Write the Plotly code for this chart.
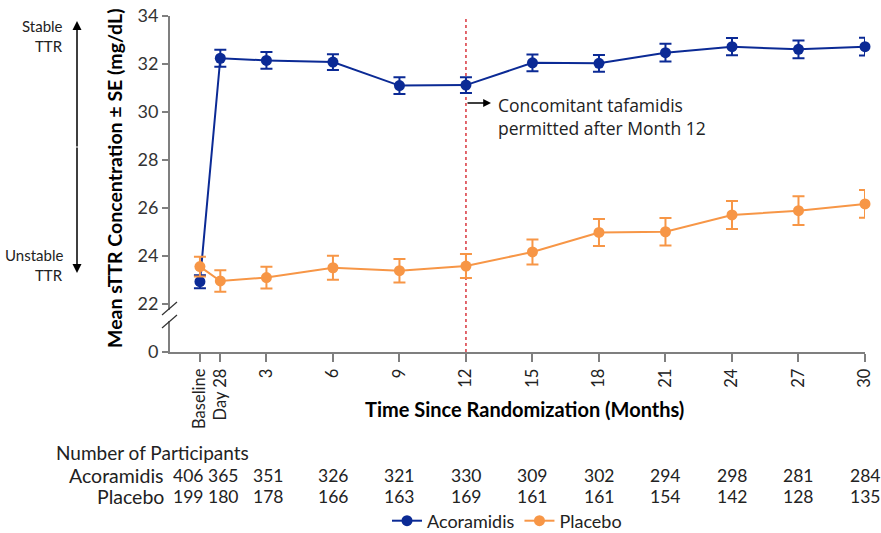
import plotly.graph_objects as go

# ---------------- data ----------------
time_points = [0, 0.92, 3, 6, 9, 12, 15, 18, 21, 24, 27, 30]
tick_labels = ["Baseline", "Day 28", "3", "6", "9", "12", "15", "18", "21", "24", "27", "30"]

acor_mean = [22.93, 32.24, 32.15, 32.08, 31.10, 31.12, 32.05, 32.03, 32.47, 32.72, 32.61, 32.72]
acor_se   = [0.27, 0.35, 0.35, 0.33, 0.35, 0.33, 0.35, 0.35, 0.37, 0.36, 0.37, 0.37]
plac_mean = [23.56, 22.96, 23.10, 23.51, 23.39, 23.58, 24.17, 24.98, 25.01, 25.71, 25.89, 26.17]
plac_se   = [0.41, 0.45, 0.45, 0.50, 0.49, 0.50, 0.52, 0.56, 0.57, 0.58, 0.60, 0.58]

n_acor = [406, 365, 351, 326, 321, 330, 309, 302, 294, 298, 281, 284]
n_plac = [199, 180, 178, 166, 163, 169, 161, 161, 154, 142, 128, 135]

y_tickvals = [20, 22, 24, 26, 28, 30, 32, 34]
y_ticktext = ["0", "22", "24", "26", "28", "30", "32", "34"]

BLUE = "#0b2a95"
ORANGE = "#f79646"
AXIS = "#7f7f7f"
TXT = "#222222"
FONT = "Lato"

# plot area geometry (pixels) for decorations
L, R, T, B = 170, 865, 16, 352
def px2x(px):
    return (px - L) / (R - L)
def py2y(py):
    return (B - py) / (B - T)

fig = go.Figure()
fig.add_trace(go.Scatter(
    x=time_points, y=acor_mean, name="Acoramidis", mode="lines+markers",
    line=dict(color=BLUE, width=2), marker=dict(color=BLUE, size=11),
    error_y=dict(type="data", array=acor_se, color=BLUE, thickness=2, width=6),
    cliponaxis=False))
fig.add_trace(go.Scatter(
    x=time_points, y=plac_mean, name="Placebo", mode="lines+markers",
    line=dict(color=ORANGE, width=2), marker=dict(color=ORANGE, size=11),
    error_y=dict(type="data", array=plac_se, color=ORANGE, thickness=2, width=6),
    cliponaxis=False))

fig.update_layout(
    width=881, height=533, autosize=False,
    margin=dict(l=L, r=881 - R, t=T, b=533 - B, autoexpand=False),
    plot_bgcolor="white", paper_bgcolor="white",
    font=dict(family=FONT, color=TXT),
    showlegend=True,
    legend=dict(orientation="h", x=px2x(507), y=py2y(521), xanchor="center", yanchor="middle",
                font=dict(family=FONT, size=18, color=TXT), itemwidth=30),
    xaxis=dict(range=[-1.35, 30], showgrid=False, zeroline=False, showline=True,
               linecolor=AXIS, linewidth=2, ticks="outside", ticklen=8, tickwidth=1.5,
               tickcolor=AXIS, tickvals=time_points, ticktext=tick_labels, tickangle=-90,
               tickfont=dict(family=FONT, size=16.5, color=TXT), automargin=False),
    yaxis=dict(range=[20, 34], showgrid=False, zeroline=False, showline=True,
               linecolor=AXIS, linewidth=2, ticks="outside", ticklen=6, tickwidth=1.5,
               tickcolor=AXIS, tickvals=y_tickvals, ticktext=y_ticktext,
               tickfont=dict(family=FONT, size=18, color="#333333"), automargin=False),
)

# dashed reference line at Month 12
fig.add_shape(type="line", xref="x", yref="y", x0=12, x1=12, y0=20, y1=34,
              line=dict(color="#d9363e", width=1.5, dash="3px,3px"), layer="below")

# axis break
fig.add_shape(type="rect", xref="paper", yref="paper", x0=px2x(165), x1=px2x(174),
              y0=py2y(321), y1=py2y(310), line=dict(width=0), fillcolor="white", layer="above")
for y_top in (302, 315):
    fig.add_shape(type="line", xref="paper", yref="paper", x0=px2x(162), x1=px2x(177),
                  y0=py2y(y_top + 13), y1=py2y(y_top), line=dict(color="#333333", width=1.2),
                  layer="above")

ann = []
# axis titles
ann.append(dict(text="<b>Mean sTTR Concentration ± SE (mg/dL)</b>", textangle=-90,
                xref="paper", yref="paper", x=px2x(115), y=py2y(178),
                xanchor="center", yanchor="middle", showarrow=False,
                font=dict(family=FONT, size=19.5, color="black")))
ann.append(dict(text="<b>Time Since Randomization (Months)</b>",
                xref="paper", yref="paper", x=px2x(524), y=py2y(409),
                xanchor="center", yanchor="middle", showarrow=False,
                font=dict(family=FONT, size=20, color="black")))

# stable / unstable arrows
ann.append(dict(text="", xref="paper", yref="paper", x=px2x(77), y=py2y(21),
                ax=0, ay=127, showarrow=True, arrowhead=2, arrowsize=1.2, arrowwidth=1.5,
                arrowcolor="black"))
ann.append(dict(text="", xref="paper", yref="paper", x=px2x(77), y=py2y(273),
                ax=0, ay=-127, showarrow=True, arrowhead=2, arrowsize=1.2, arrowwidth=1.5,
                arrowcolor="black"))
for txt, py in (("Stable", 26), ("TTR", 46), ("Unstable", 255), ("TTR", 275)):
    ann.append(dict(text=txt, xref="paper", yref="paper", x=px2x(65), y=py2y(py),
                    xanchor="right", yanchor="middle", showarrow=False,
                    font=dict(family=FONT, size=15, color=TXT)))

# month 12 annotation
ann.append(dict(text="", xref="paper", yref="paper", x=px2x(491), y=py2y(103),
                ax=-25, ay=0, showarrow=True, arrowhead=2, arrowsize=1.2, arrowwidth=1.3,
                arrowcolor="black"))
ann.append(dict(text="Concomitant tafamidis<br>permitted after Month 12",
                xref="paper", yref="paper", x=px2x(496), y=py2y(116),
                xanchor="left", yanchor="middle", align="left", showarrow=False,
                font=dict(family="Open Sans", size=17.5, color=TXT)))

# participants table
ann.append(dict(text="Number of Participants", xref="paper", yref="paper",
                x=px2x(54), y=py2y(452), xanchor="left", yanchor="middle", showarrow=False,
                font=dict(family=FONT, size=19, color=TXT)))
for label, vals, py in (("Acoramidis", n_acor, 475), ("Placebo", n_plac, 496)):
    ann.append(dict(text=label, xref="paper", yref="paper", x=px2x(166), y=py2y(py),
                    xanchor="right", yanchor="middle", showarrow=False,
                    font=dict(family=FONT, size=19.5, color=TXT)))
    for i, (t, v) in enumerate(zip(time_points, vals)):
        shift = -12 if i == 0 else (3 if i == 1 else (2 if i == 2 else 0))
        ann.append(dict(text=str(v), xref="x", yref="paper", x=t, y=py2y(py), xshift=shift,
                        xanchor="center", yanchor="middle", showarrow=False,
                        font=dict(family=FONT, size=17.5, color=TXT)))

fig.update_layout(annotations=ann)
fig.write_html("out.html", config={"displayModeBar": False},
               post_script="document.body.style.margin='0px';document.body.style.overflow='hidden';")
